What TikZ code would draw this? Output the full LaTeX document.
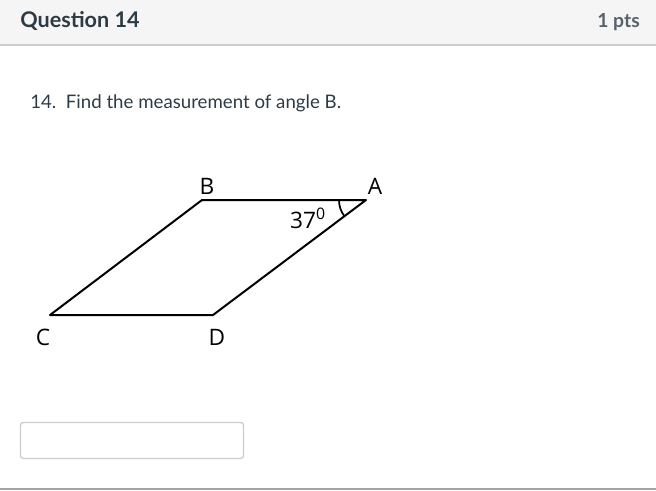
\documentclass[tikz,border=0pt]{standalone}
\usepackage{fontspec}
\setmainfont{Lato}
\newfontfamily\figfont{Open Sans}
\usepackage{tikz}
\usetikzlibrary{calc,positioning}

\definecolor{headbg}{RGB}{245,245,245}
\definecolor{headline}{RGB}{199,205,209}
\definecolor{headtext}{RGB}{45,59,69}
\definecolor{boxline}{RGB}{204,204,204}

\tikzset{
  edge/.style={line width=1.5},
  vlabel/.style={font=\figfont\fontsize{17}{20}\selectfont, inner sep=0.75pt},
}

\begin{document}
\begin{tikzpicture}[x=0.75pt,y=0.75pt,yscale=-1,xscale=1]
\useasboundingbox (0,0) rectangle (656,490);

% Header
\fill [headbg] (0,0) rectangle (656,45);
\draw [headline,line width=1] (0,45) -- (656,45);
\draw (20,27) node [anchor=base west][inner sep=0pt] (title) {\fontsize{16.2}{18}\selectfont\bfseries\color{headtext}Question 14};
\draw (640,27) node [anchor=base east][inner sep=0pt] (pts) {\fontsize{14.5}{18}\selectfont\bfseries\color{headtext!80}1 pts};

% Question text
\draw (30,108) node [anchor=base west][inner sep=0pt] (qtext) {\fontsize{14}{17}\selectfont\color{headtext}14.\ \ Find the measurement of angle B.};

% Parallelogram
\coordinate (A) at (366,200);
\coordinate (B) at (202,200);
\coordinate (C) at (50,315);
\coordinate (D) at (213,315);
\draw [edge,line join=round] (B) -- (A) -- (D) -- (C) -- cycle;
% angle at A
\draw [line width=1.3] ($(A)+(-27,0)$) arc (180:143:27);

% Text Node
\draw (207,194) node [anchor=base][vlabel] (labB) {B};
% Text Node
\draw (375,194) node [anchor=base][vlabel] (labA) {A};
% Text Node
\draw (43,345) node [anchor=base][vlabel] (labC) {C};
% Text Node
\draw (217,345) node [anchor=base][vlabel] (labD) {D};
% Text Node
\draw (308,228) node [anchor=base][vlabel] (ang) {37\textsuperscript{0}};

% Answer box
\draw [boxline,line width=1,rounded corners=2] (20.5,422.5) rectangle (243.5,458.5);

% Bottom rule
\draw [headline!80!black,line width=1] (0,489) -- (656,489);
\end{tikzpicture}
\end{document}
